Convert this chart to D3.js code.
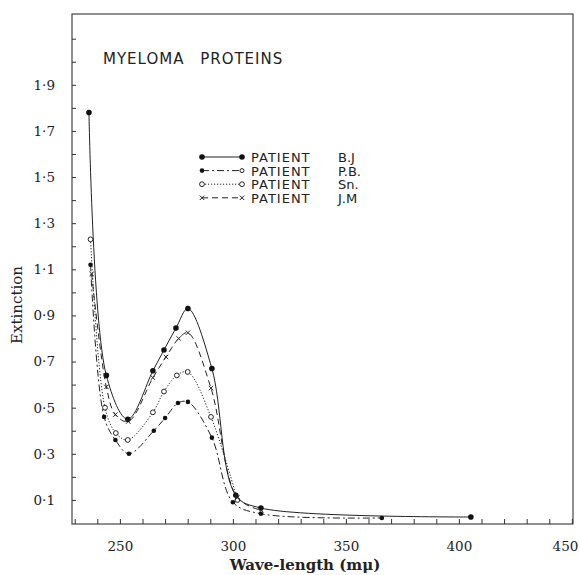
<!DOCTYPE html>
<html>
<head>
<meta charset="utf-8">
<script src="https://cdn.jsdelivr.net/npm/d3@7"></script>
<style>
  body { margin: 0; background: #fff; }
  .axis path { display: none; }
  .axis line { stroke: #333; }
  .axis text { font-family: "DejaVu Serif", serif; font-size: 13.5px; fill: #222; }
</style>
</head>
<body>
<div id="chart"></div>
<script>
// wavelengths (m-mu) and extinction
var bjWave = [236.3, 244, 253.5, 264.6, 269.5, 274.8, 280.1, 290.7, 301.3, 312.4, 405.3];
var bjExt  = [1.78, 0.64, 0.45, 0.66, 0.75, 0.845, 0.93, 0.67, 0.12, 0.065, 0.026];

var pbWave = [237, 243, 248, 254, 265, 270, 275.7, 280.1, 290.7, 300, 312.4, 365.9];
var pbExt  = [1.12, 0.46, 0.36, 0.30, 0.40, 0.455, 0.52, 0.525, 0.37, 0.09, 0.04, 0.022];

var snWave = [237, 243.4, 248.2, 253.5, 264.6, 269.5, 275.2, 280, 290.3, 302];
var snExt  = [1.23, 0.50, 0.39, 0.36, 0.48, 0.57, 0.64, 0.655, 0.46, 0.10];

var jmWave = [237.5, 244, 248, 253.7, 264.6, 270.4, 276, 280.1, 290.3, 302, 312.6];
var jmExt  = [1.08, 0.59, 0.47, 0.44, 0.63, 0.72, 0.80, 0.825, 0.585, 0.11, 0.055];

var patients = ["B.J", "P.B.", "Sn.", "J.M"];
var xTicks = [250, 300, 350, 400, 450];
var yTicks = [0.1, 0.3, 0.5, 0.7, 0.9, 1.1, 1.3, 1.5, 1.7, 1.9];

var width = 580, height = 575;
var mLeft = 72, mRight = 573, mTop = 14, mBottom = 524;

var svg = d3.select("#chart")
  .append("svg")
    .attr("width", width)
    .attr("height", height);

var x = d3.scaleLinear().domain([228.8, 450.5]).range([mLeft, mRight]);
var y = d3.scaleLinear().domain([0.0, 2.207]).range([mBottom - 1, mTop]);

// frame
svg.append("rect")
  .attr("x", mLeft).attr("y", mTop)
  .attr("width", mRight - mLeft).attr("height", mBottom - mTop)
  .attr("fill", "none").attr("stroke", "#333").attr("stroke-width", 1.1);

var fmt = function(d) { return d3.format(".1f")(d).replace(".", "\u00b7"); };

var xAxis = svg.append("g")
  .attr("class", "axis")
  .attr("transform", "translate(0," + mBottom + ")")
  .call(d3.axisBottom(x)
    .tickValues(d3.range(230, 451, 10))
    .tickSize(-5)
    .tickPadding(17)
    .tickFormat(function(d) { return xTicks.indexOf(d) >= 0 ? d : ""; }));

// last label sits against the page edge
xAxis.selectAll(".tick text")
  .filter(function(d) { return d == 450; })
  .attr("text-anchor", "end")
  .attr("dx", 6);

svg.append("g")
  .attr("class", "axis")
  .attr("transform", "translate(" + mLeft + ",0)")
  .call(d3.axisLeft(y)
    .tickValues(d3.range(1, 22).map(function(i) { return i / 10; }))
    .tickSize(-4)
    .tickPadding(17)
    .tickFormat(function(d) {
      return yTicks.some(function(t) { return Math.abs(t - d) < 1e-6; }) ? fmt(d) : "";
    }));

// axis titles
svg.append("text")
  .attr("x", 305).attr("y", 570)
  .attr("text-anchor", "middle")
  .style("font-family", "DejaVu Serif, serif")
  .style("font-size", "15px")
  .style("font-weight", "bold")
  .style("fill", "#222")
  .text("Wave-length (m\u03bc)");

svg.append("text")
  .attr("transform", "translate(22,305)rotate(-90)")
  .attr("text-anchor", "middle")
  .style("font-family", "DejaVu Serif, serif")
  .style("font-size", "15px")
  .style("fill", "#222")
  .text("Extinction");

svg.append("text")
  .attr("x", 103).attr("y", 64)
  .style("font-family", "DejaVu Sans, sans-serif")
  .style("font-size", "15px")
  .style("letter-spacing", "1px")
  .style("word-spacing", "10px")
  .style("fill", "#222")
  .text("MYELOMA PROTEINS");

var series = [
  { name: patients[0], wave: bjWave, ext: bjExt, dash: null,        mark: "dot",    r: 2.8 },
  { name: patients[1], wave: pbWave, ext: pbExt, dash: "7,3,2,3",   mark: "dot",    r: 2.3 },
  { name: patients[2], wave: snWave, ext: snExt, dash: "1.2,1.8",   mark: "circle", r: 2.4 },
  { name: patients[3], wave: jmWave, ext: jmExt, dash: "6,4",       mark: "cross",  r: 2.2 }
];

var line = d3.line()
  .x(function(d) { return x(d[0]); })
  .y(function(d) { return y(d[1]); })
  .curve(d3.curveCatmullRom.alpha(0.5));

function drawMark(g, px, py, s) {
  if (s.mark == "dot") {
    g.append("circle").attr("cx", px).attr("cy", py).attr("r", s.r).attr("fill", "#111");
  } else if (s.mark == "circle") {
    g.append("circle").attr("cx", px).attr("cy", py).attr("r", s.r)
      .attr("fill", "#fff").attr("stroke", "#222").attr("stroke-width", 1);
  } else {
    g.append("path")
      .attr("d", "M" + (px - s.r) + "," + (py - s.r) + "L" + (px + s.r) + "," + (py + s.r) +
                 "M" + (px - s.r) + "," + (py + s.r) + "L" + (px + s.r) + "," + (py - s.r))
      .attr("stroke", "#222").attr("stroke-width", 1);
  }
}

series.forEach(function(s) {
  var pts = s.wave.map(function(w, i) { return [w, s.ext[i]]; });
  svg.append("path")
    .datum(pts)
    .attr("d", line)
    .attr("fill", "none")
    .attr("stroke", "#222")
    .attr("stroke-width", 1)
    .attr("stroke-dasharray", s.dash);
  var g = svg.append("g");
  pts.forEach(function(p) { drawMark(g, x(p[0]), y(p[1]), s); });
});

// legend
var lg = svg.append("g").attr("transform", "translate(202,157)");
series.forEach(function(s, i) {
  var yy = i * 13.6;
  lg.append("line")
    .attr("x1", 0).attr("x2", 40).attr("y1", yy).attr("y2", yy)
    .attr("stroke", "#222").attr("stroke-width", 1)
    .attr("stroke-dasharray", s.dash);
  drawMark(lg, 0, yy, s);
  drawMark(lg, 40, yy, s.mark == "dot" && i == 1 ? { mark: "circle", r: 2 } : s);
  lg.append("text")
    .attr("x", 49).attr("y", yy + 5)
    .style("font-family", "DejaVu Sans, sans-serif")
    .style("font-size", "13px")
    .style("letter-spacing", "1px")
    .style("fill", "#222")
    .text("PATIENT");
  lg.append("text")
    .attr("x", 136).attr("y", yy + 5)
    .style("font-family", "DejaVu Sans, sans-serif")
    .style("font-size", "13px")
    .style("fill", "#222")
    .text(s.name);
});
</script>
</body>
</html>
